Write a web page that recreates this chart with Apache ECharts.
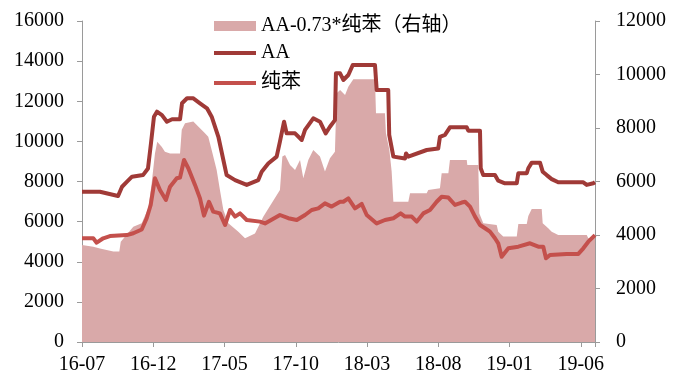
<!DOCTYPE html>
<html>
<head>
<meta charset="utf-8">
<script src="https://cdn.jsdelivr.net/npm/echarts@6/dist/echarts.min.js"></script>
<style>
html,body{margin:0;padding:0;background:#fff;}
#c{width:683px;height:380px;}
</style>
</head>
<body>
<div id="c"></div>
<script>
// time axis: months since 2016-07 (0 = 2016-07, 5 = 2016-12, ...)
const xTickMonths = [0, 5, 10, 15, 20, 25, 30, 35];
const leftTicks = [0, 2000, 4000, 6000, 8000, 10000, 12000, 14000, 16000];
const rightTicks = [0, 2000, 4000, 6000, 8000, 10000, 12000];

const seriesNames = ['AA-0.73*纯苯（右轴）', 'AA', '纯苯'];

// AA (left axis)
const aaT = [0, 1.26, 2.53, 2.81, 3.16, 3.51, 4.28, 4.63, 4.84, 5.05, 5.26, 5.61, 5.96, 6.32, 6.88, 7.02, 7.37, 7.79, 8.28, 8.77, 9.10, 9.57, 9.92, 10.15, 10.74, 11.56, 12.37, 12.61, 13.07, 13.66, 13.89, 14.18, 14.36, 14.95, 15.42, 15.65, 16.23, 16.70, 17.10, 17.40, 17.75, 17.82, 18.11, 18.34, 18.69, 19.00, 20.56, 20.68, 21.49, 21.56, 21.85, 22.67, 22.74, 22.90, 24.19, 25.00, 25.12, 25.47, 25.82, 27.00, 27.11, 27.93, 27.98, 28.16, 28.98, 29.21, 29.68, 30.51, 30.62, 31.21, 31.32, 31.56, 32.14, 32.33, 32.61, 32.96, 33.42, 35.18, 35.42, 35.88, 36.0];
const aaV = [7490, 7490, 7280, 7740, 7990, 8240, 8320, 8650, 9900, 11230, 11480, 11310, 10980, 11100, 11100, 11900, 12150, 12150, 11900, 11650, 11230, 10230, 9070, 8320, 8070, 7830, 8070, 8490, 8900, 9240, 9990, 10980, 10400, 10400, 10070, 10570, 11150, 10980, 10400, 10730, 11060, 13390, 13390, 13060, 13310, 13810, 13810, 12560, 12560, 10320, 9240, 9150, 9400, 9240, 9570, 9650, 10230, 10320, 10700, 10700, 10530, 10530, 8660, 8320, 8320, 8040, 7910, 7910, 8410, 8410, 8660, 8940, 8940, 8490, 8320, 8120, 7960, 7960, 7830, 7910, 7960];

// 纯苯 (left axis)
const benT = [0, 0.79, 1.03, 1.49, 1.96, 3.14, 3.60, 4.19, 4.54, 4.82, 5.12, 5.47, 5.89, 6.18, 6.65, 6.88, 7.16, 7.46, 7.93, 8.28, 8.56, 8.91, 9.21, 9.68, 10.04, 10.39, 10.74, 11.09, 11.56, 12.49, 12.84, 13.89, 14.48, 15.07, 15.65, 16.12, 16.58, 17.05, 17.52, 18.11, 18.34, 18.69, 19.16, 19.63, 19.98, 20.68, 21.26, 21.85, 22.36, 22.67, 23.14, 23.49, 23.95, 24.42, 24.89, 25.24, 25.71, 26.18, 26.65, 26.88, 27.23, 27.58, 27.93, 28.28, 28.63, 28.98, 29.21, 29.45, 29.92, 30.62, 31.44, 32.02, 32.37, 32.56, 32.84, 34.01, 34.83, 35.18, 35.53, 36.0];
const benV = [5170, 5170, 4950, 5170, 5280, 5330, 5420, 5610, 6170, 6830, 8160, 7580, 7080, 7740, 8160, 8200, 9070, 8660, 7830, 7160, 6300, 6990, 6500, 6410, 5830, 6580, 6250, 6410, 6080, 6000, 5910, 6330, 6170, 6080, 6330, 6580, 6660, 6910, 6750, 6990, 6990, 7160, 6660, 6880, 6330, 5910, 6080, 6170, 6410, 6250, 6250, 6000, 6410, 6580, 6990, 7240, 7200, 6830, 6950, 6990, 6750, 6250, 5830, 5670, 5500, 5170, 4920, 4250, 4670, 4750, 4920, 4750, 4750, 4170, 4340, 4390, 4390, 4670, 5000, 5330];

// AA-0.73*纯苯 (right axis)
const sprT = [0, 0.79, 1.26, 1.73, 2.20, 2.62, 2.72, 3.60, 4.19, 4.65, 4.89, 5.12, 5.28, 5.59, 5.82, 6.18, 6.88, 7.00, 7.23, 7.81, 8.28, 8.63, 8.86, 9.10, 9.45, 9.68, 9.92, 10.27, 10.97, 11.44, 12.14, 12.72, 13.31, 13.89, 14.06, 14.25, 14.60, 14.95, 15.30, 15.53, 15.88, 16.23, 16.70, 17.05, 17.40, 17.75, 17.87, 18.11, 18.46, 18.69, 19.04, 20.56, 20.63, 21.26, 21.33, 21.57, 21.73, 21.85, 22.90, 23.02, 24.19, 24.30, 25.12, 25.24, 25.71, 25.82, 27.00, 27.04, 27.81, 27.88, 28.16, 29.10, 29.21, 29.56, 30.51, 30.62, 31.21, 31.32, 31.56, 32.26, 32.33, 32.72, 32.96, 33.42, 35.42, 35.53, 36.0];
const sprV = [3630, 3560, 3500, 3440, 3380, 3380, 3750, 4310, 4440, 5000, 5930, 7050, 7490, 7300, 7110, 7050, 7050, 7930, 8180, 8240, 7990, 7800, 7670, 7180, 6430, 5680, 4930, 4440, 4120, 3880, 4060, 4680, 5190, 5680, 6930, 6990, 6620, 6430, 6800, 6120, 6800, 7180, 6930, 6370, 6870, 7110, 9300, 9420, 9230, 9540, 9820, 9820, 8550, 8550, 7800, 7180, 6370, 5240, 5240, 5560, 5560, 5680, 5750, 6310, 6310, 6800, 6800, 6620, 6620, 4810, 4440, 4370, 4120, 3940, 3940, 4410, 4410, 4710, 4970, 4970, 4440, 4250, 4120, 4000, 4000, 3880, 3930];

const zip = (t, v) => t.map((x, i) => [x, v[i]]);
const fmtMonth = (m) => {
  if (!xTickMonths.includes(m)) return '';
  const total = 6 + m;
  const y = 16 + Math.floor(total / 12);
  const mo = (total % 12) + 1;
  return y + '-' + (mo < 10 ? '0' + mo : mo);
};
const fmtNum = (v) => String(v);

const FONT = '"Liberation Serif", "Times New Roman", "Noto Sans CJK SC", serif';
const AXIS_COLOR = '#9a9a9a';
const C_SPR = '#d9a9a9', C_AA = '#a03a37', C_BEN = '#c4504c';

const chart = echarts.init(document.getElementById('c'), null, {renderer: 'canvas'});
chart.setOption({
  animation: false,
  backgroundColor: '#fff',
  textStyle: {fontFamily: FONT},
  grid: {left: 82, right: 88, top: 21, bottom: 38, containLabel: false},
  legend: [
    {
      orient: 'vertical', left: 209, top: 11,
      data: [{name: seriesNames[0], icon: 'rect'}],
      itemWidth: 42, itemHeight: 10,
      textStyle: {fontFamily: FONT, fontSize: 20, color: '#000', lineHeight: 20}
    },
    {
      orient: 'vertical', left: 209, top: 38, itemGap: 10,
      data: [{name: seriesNames[1], icon: 'rect'}, {name: seriesNames[2], icon: 'rect'}],
      itemWidth: 42, itemHeight: 4,
      textStyle: {fontFamily: FONT, fontSize: 20, color: '#000', lineHeight: 20}
    }
  ],
  xAxis: {
    type: 'value', min: 0, max: 36, interval: 5,
    axisLine: {show: true, lineStyle: {color: AXIS_COLOR, width: 1}},
    axisTick: {show: true, inside: false, length: 5, lineStyle: {color: AXIS_COLOR}},
    splitLine: {show: false},
    axisLabel: {formatter: fmtMonth, fontFamily: FONT, fontSize: 20, color: '#000', margin: 13}
  },
  yAxis: [
    {
      type: 'value', min: leftTicks[0], max: leftTicks[leftTicks.length - 1], interval: 2000,
      axisLine: {show: true, lineStyle: {color: AXIS_COLOR}},
      axisTick: {show: true, length: 5, lineStyle: {color: AXIS_COLOR}},
      splitLine: {show: false},
      axisLabel: {formatter: fmtNum, fontFamily: FONT, fontSize: 20, color: '#000', margin: 18}
    },
    {
      type: 'value', position: 'right', min: rightTicks[0], max: rightTicks[rightTicks.length - 1], interval: 2000,
      axisLine: {show: true, lineStyle: {color: AXIS_COLOR}},
      axisTick: {show: true, length: 5, lineStyle: {color: AXIS_COLOR}},
      splitLine: {show: false},
      axisLabel: {formatter: fmtNum, fontFamily: FONT, fontSize: 20, color: '#000', margin: 21}
    }
  ],
  series: [
    {
      name: seriesNames[0], type: 'line', yAxisIndex: 1,
      data: zip(sprT, sprV), symbol: 'none', showSymbol: false,
      lineStyle: {width: 0, color: C_SPR}, itemStyle: {color: C_SPR},
      areaStyle: {color: C_SPR, opacity: 1}, z: 1
    },
    {
      name: seriesNames[1], type: 'line', yAxisIndex: 0,
      data: zip(aaT, aaV), symbol: 'none', showSymbol: false,
      lineStyle: {width: 4, color: C_AA, join: 'round'}, itemStyle: {color: C_AA}, z: 3
    },
    {
      name: seriesNames[2], type: 'line', yAxisIndex: 0,
      data: zip(benT, benV), symbol: 'none', showSymbol: false,
      lineStyle: {width: 4, color: C_BEN, join: 'round'}, itemStyle: {color: C_BEN}, z: 2
    }
  ]
});
</script>
</body>
</html>
